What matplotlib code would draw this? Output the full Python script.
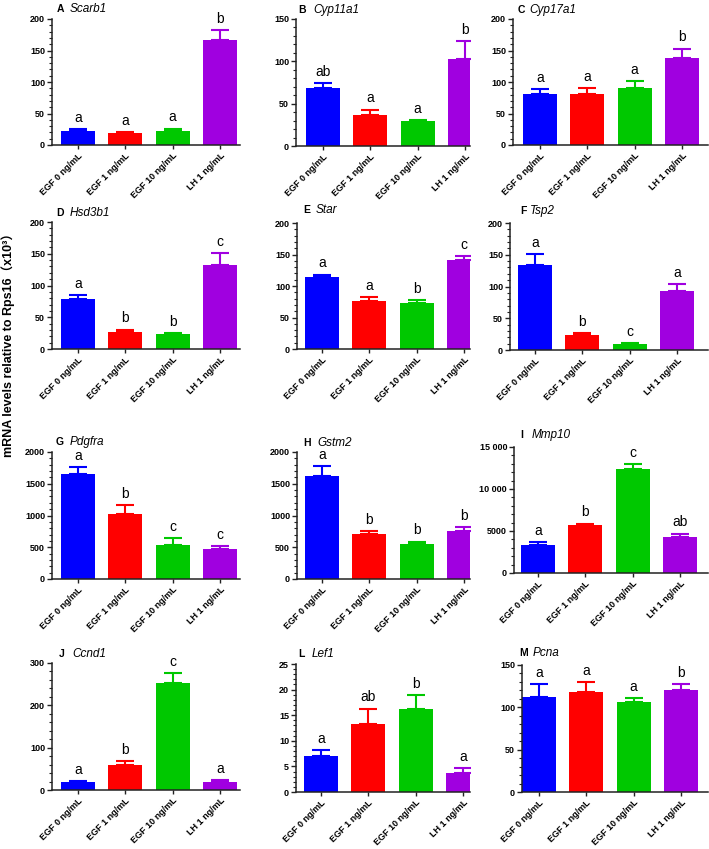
import matplotlib
matplotlib.use('Agg')
import matplotlib.pyplot as plt
from matplotlib.ticker import MultipleLocator, AutoMinorLocator, FuncFormatter
import numpy as np

plt.rcParams['font.family'] = ['Liberation Sans', 'Noto Sans CJK SC', 'DejaVu Sans']

groups = ["EGF 0 ng/mL", "EGF 1 ng/mL", "EGF 10 ng/mL", "LH 1 ng/mL"]
bar_colors = ["#0000FF", "#FF0000", "#00C800", "#A000E0"]

panel_ids = ["A", "B", "C", "D", "E", "F", "G", "H", "I", "J", "L", "M"]
genes = ["Scarb1", "Cyp11a1", "Cyp17a1", "Hsd3b1", "Star", "Tsp2",
         "Pdgfra", "Gstm2", "Mmp10", "Ccnd1", "Lef1", "Pcna"]

scarb1 = [23, 19, 23, 167]
scarb1_err = [2, 2, 3, 15]
cyp11a1 = [68, 37, 29, 103]
cyp11a1_err = [6, 6, 1.5, 21]
cyp17a1 = [81, 81, 90, 138]
cyp17a1_err = [7.5, 10, 11.5, 15]
hsd3b1 = [79, 27, 23, 132]
hsd3b1_err = [6.5, 3.5, 1.5, 19]
star = [115, 76.5, 73, 141]
star_err = [3, 5.5, 4, 7]
tsp2 = [134, 23, 9, 93]
tsp2_err = [17, 3, 2, 11]
pdgfra = [1660, 1025, 535, 478]
pdgfra_err = [100, 135, 105, 36]
gstm2 = [1617, 714, 551, 751]
gstm2_err = [157, 47, 37, 68]
mmp10 = [3350, 5720, 12430, 4340]
mmp10_err = [320, 160, 520, 360]
ccnd1 = [19, 60, 253, 20]
ccnd1_err = [2.5, 8, 23, 3]
lef1 = [7, 13.3, 16.2, 3.7]
lef1_err = [1.2, 3, 2.8, 0.9]
pcna = [112, 118, 106, 120]
pcna_err = [15, 12, 5, 7]

means = [scarb1, cyp11a1, cyp17a1, hsd3b1, star, tsp2,
         pdgfra, gstm2, mmp10, ccnd1, lef1, pcna]
errs = [scarb1_err, cyp11a1_err, cyp17a1_err, hsd3b1_err, star_err, tsp2_err,
        pdgfra_err, gstm2_err, mmp10_err, ccnd1_err, lef1_err, pcna_err]
sig = [["a", "a", "a", "b"], ["ab", "a", "a", "b"], ["a", "a", "a", "b"],
       ["a", "b", "b", "c"], ["a", "a", "b", "c"], ["a", "b", "c", "a"],
       ["a", "b", "c", "c"], ["a", "b", "b", "b"], ["a", "b", "c", "ab"],
       ["a", "b", "c", "a"], ["a", "ab", "b", "a"], ["a", "a", "a", "b"]]
ymax = [200, 150, 200, 200, 200, 200, 2000, 2000, 15000, 300, 25, 150]
ystep = [50, 50, 50, 50, 50, 50, 500, 500, 5000, 100, 5, 50]

# layout in pixels: axis left, top, right, bottom, first bar centre,
# panel letter x, gene x, title baseline
layout = [
    (52, 19, 240, 145, 78, 57, 70, 12),
    (296, 19, 470, 146, 323, 298, 313, 13),
    (513, 19, 708, 145, 540, 518, 529, 13),
    (52, 222, 240, 349, 78, 56, 70, 216),
    (297, 223, 470, 349, 322, 303, 316, 213),
    (510, 223, 708, 350, 535, 520, 530, 214),
    (52, 452, 240, 579, 78, 56, 70, 445),
    (297, 452, 470, 579, 322, 303, 317, 446),
    (514, 447, 708, 573, 538, 520, 532, 438),
    (52, 663, 240, 790, 78, 59, 72, 657),
    (296, 664, 470, 792, 321, 298, 312, 657),
    (522, 665, 708, 792, 539, 519, 533, 656),
]

W, H = 709, 849
spacing = 47.3
x = np.arange(len(groups))

fig = plt.figure(figsize=(W / 100, H / 100), dpi=100)


def thousands(v, p):
    v = int(round(v))
    if v >= 10000:
        return f"{v:,}".replace(",", " ")
    return str(v)


for i in range(len(genes)):
    left, top, right, bottom, c0, lx, gx, ty = layout[i]
    ax = fig.add_axes([left / W, 1 - bottom / H, (right - left) / W, (bottom - top) / H])
    x0 = -(c0 - left) / spacing
    ax.set_xlim(x0, x0 + (right - left) / spacing)
    ax.set_ylim(0, ymax[i])

    ax.bar(x, means[i], width=0.72, color=bar_colors, zorder=2)
    for k in range(len(groups)):
        ax.errorbar(x[k], means[i][k], yerr=[[0], [errs[i][k]]], fmt='none',
                    ecolor=bar_colors[k], elinewidth=1.5, capsize=6.5,
                    capthick=1.5, zorder=1)
        ax.annotate(sig[i][k], (x[k], means[i][k] + errs[i][k]),
                    xytext=(0, 3), textcoords='offset points',
                    ha='center', va='bottom', fontsize=10)

    for s in ['top', 'right']:
        ax.spines[s].set_visible(False)
    for s in ['left', 'bottom']:
        ax.spines[s].set_linewidth(1.1)
        ax.spines[s].set_color('#222222')

    ax.yaxis.set_major_locator(MultipleLocator(ystep[i]))
    ax.yaxis.set_minor_locator(AutoMinorLocator(5))
    ax.yaxis.set_major_formatter(FuncFormatter(thousands))
    ax.tick_params(axis='y', which='major', length=3.5, width=1.0, pad=1.5,
                   labelsize=6.5, color='#222222')
    ax.tick_params(axis='y', which='minor', length=2, width=0.8, color='#222222')
    ax.tick_params(axis='x', length=3, width=1.0, pad=1.5, color='#222222')
    for lab in ax.get_yticklabels():
        lab.set_fontweight('bold')

    ax.set_xticks(x)
    ax.set_xticklabels(groups, rotation=45, ha='right', rotation_mode='anchor',
                       fontsize=6.5, fontweight='bold')

    fig.text(lx / W, 1 - ty / H, panel_ids[i], fontsize=7.5, fontweight='bold',
             va='baseline', ha='left')
    fig.text(gx / W, 1 - ty / H, genes[i], fontsize=8.5, style='italic',
             va='baseline', ha='left')

fig.text(0.012, 0.597, "mRNA levels relative to Rps16（x10³）", rotation=90,
         va='center', ha='center', fontsize=9, fontweight='bold')

fig.savefig("out.png", dpi=100)
